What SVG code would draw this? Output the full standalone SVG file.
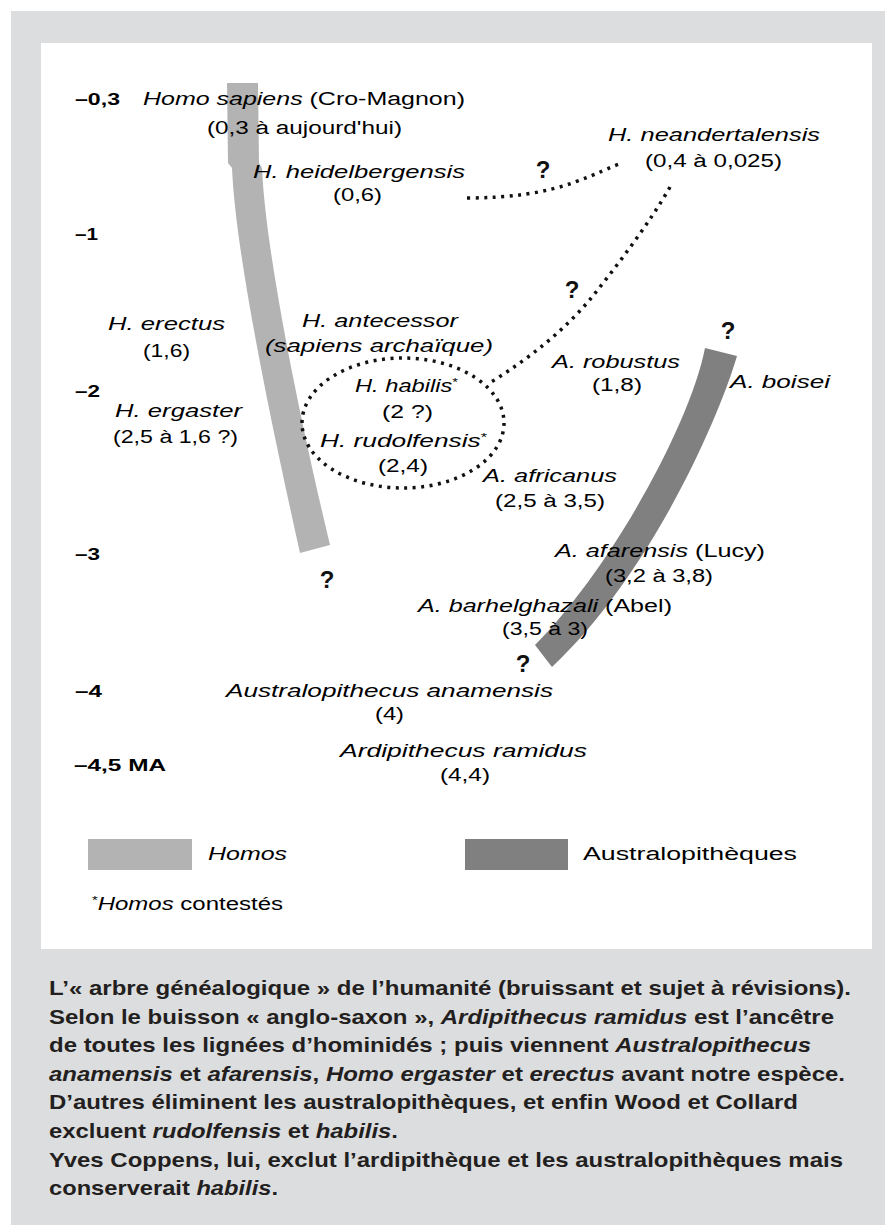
<svg xmlns="http://www.w3.org/2000/svg" width="885" height="1225" viewBox="0 0 885 1225">
<style>
.l{font-family:"Liberation Sans",Arial,sans-serif;font-size:18px;fill:#000}
.i{font-style:italic}
.ax{font-family:"Liberation Sans",Arial,sans-serif;font-size:17px;font-weight:bold;fill:#000}
.q{font-family:"Liberation Sans",Arial,sans-serif;font-size:24px;font-weight:bold;fill:#111;text-anchor:middle}
.cap{font-family:"Liberation Sans",Arial,sans-serif;font-size:21px;font-weight:bold;fill:#231f20}
.dot{fill:none;stroke:#111;stroke-width:3.5;stroke-dasharray:3 5.5}
.light{fill:#b3b3b3}
.dark{fill:#808080}
</style>
<rect x="11" y="11" width="874" height="1214" fill="#dcdddf"/>
<rect x="41" y="43" width="831" height="906" fill="#ffffff"/>

<g id="bands">
<path id="homo-band" class="light" d="M227,83 L258,83 L259,163 L262,168 C266,260 305,440 330,545 L300,553 C275,440 236,260 232,168 L228,163 Z"/>
<path id="austra-band" class="dark" d="M705,348 L737,356 C715,430 645,580 552,667 L535,645 C610,570 690,425 705,348 Z"/>
</g>

<g id="axis">
<text class="ax" x="75" y="105" textLength="45" lengthAdjust="spacingAndGlyphs">–0,3</text>
<text class="ax" x="75" y="240" textLength="23" lengthAdjust="spacingAndGlyphs">–1</text>
<text class="ax" x="75" y="397" textLength="25" lengthAdjust="spacingAndGlyphs">–2</text>
<text class="ax" x="75" y="560" textLength="25" lengthAdjust="spacingAndGlyphs">–3</text>
<text class="ax" x="75" y="697" textLength="27" lengthAdjust="spacingAndGlyphs">–4</text>
<text class="ax" x="74" y="771" textLength="92" lengthAdjust="spacingAndGlyphs">–4,5 MA</text>
</g>

<g id="connectors">
<path class="dot" d="M467,198 C510,198 545,193 575,182 C595,175 610,167 622,163"/>
<path class="dot" d="M670,187 C650,222 620,262 592,297 C565,330 530,358 488,384"/>
<ellipse class="dot" cx="403" cy="423" rx="101" ry="65"/>
</g>

<g id="sapiens"><text class="l" x="143" y="105" textLength="322" lengthAdjust="spacingAndGlyphs"><tspan class="i">Homo sapiens</tspan> (Cro-Magnon)</text>
<text class="l" x="207" y="134" textLength="195" lengthAdjust="spacingAndGlyphs">(0,3 à aujourd'hui)</text></g>
<g id="heidelbergensis"><text class="l i" x="253" y="178" textLength="212" lengthAdjust="spacingAndGlyphs">H. heidelbergensis</text>
<text class="l" x="333" y="201" textLength="49" lengthAdjust="spacingAndGlyphs">(0,6)</text></g>
<g id="neandertalensis"><text class="l i" x="608" y="141" textLength="212" lengthAdjust="spacingAndGlyphs">H. neandertalensis</text>
<text class="l" x="645" y="167" textLength="137" lengthAdjust="spacingAndGlyphs">(0,4 à 0,025)</text></g>
<g id="erectus"><text class="l i" x="108" y="330" textLength="117" lengthAdjust="spacingAndGlyphs">H. erectus</text>
<text class="l" x="143" y="357" textLength="47" lengthAdjust="spacingAndGlyphs">(1,6)</text></g>
<g id="antecessor"><text class="l i" x="302" y="327" textLength="156" lengthAdjust="spacingAndGlyphs">H. antecessor</text>
<text class="l i" x="265" y="352" textLength="228" lengthAdjust="spacingAndGlyphs">(sapiens archaïque)</text></g>
<g id="habilis"><text class="l" x="355" y="392" textLength="103" lengthAdjust="spacingAndGlyphs"><tspan class="i">H. habilis</tspan><tspan font-size="11" dy="-6">*</tspan></text>
<text class="l" x="382" y="418" textLength="51" lengthAdjust="spacingAndGlyphs">(2 ?)</text></g>
<g id="rudolfensis"><text class="l" x="320" y="447" textLength="167" lengthAdjust="spacingAndGlyphs"><tspan class="i">H. rudolfensis</tspan><tspan font-size="11" dy="-6">*</tspan></text>
<text class="l" x="378" y="472" textLength="50" lengthAdjust="spacingAndGlyphs">(2,4)</text></g>
<g id="ergaster"><text class="l i" x="115" y="417" textLength="127" lengthAdjust="spacingAndGlyphs">H. ergaster</text>
<text class="l" x="113" y="443" textLength="125" lengthAdjust="spacingAndGlyphs">(2,5 à 1,6 ?)</text></g>
<g id="robustus"><text class="l i" x="552" y="368" textLength="128" lengthAdjust="spacingAndGlyphs">A. robustus</text>
<text class="l" x="592" y="391" textLength="50" lengthAdjust="spacingAndGlyphs">(1,8)</text></g>
<g id="boisei"><text class="l i" x="730" y="388" textLength="100" lengthAdjust="spacingAndGlyphs">A. boisei</text></g>
<g id="africanus"><text class="l i" x="483" y="482" textLength="134" lengthAdjust="spacingAndGlyphs">A. africanus</text>
<text class="l" x="495" y="507" textLength="110" lengthAdjust="spacingAndGlyphs">(2,5 à 3,5)</text></g>
<g id="afarensis"><text class="l" x="555" y="557" textLength="210" lengthAdjust="spacingAndGlyphs"><tspan class="i">A. afarensis</tspan> (Lucy)</text>
<text class="l" x="605" y="582" textLength="108" lengthAdjust="spacingAndGlyphs">(3,2 à 3,8)</text></g>
<g id="barhelghazali"><text class="l" x="418" y="612" textLength="254" lengthAdjust="spacingAndGlyphs"><tspan class="i">A. barhelghazali</tspan> (Abel)</text>
<text class="l" x="502" y="635" textLength="86" lengthAdjust="spacingAndGlyphs">(3,5 à 3)</text></g>
<g id="anamensis"><text class="l i" x="226" y="697" textLength="327" lengthAdjust="spacingAndGlyphs">Australopithecus anamensis</text>
<text class="l" x="375" y="720" textLength="29" lengthAdjust="spacingAndGlyphs">(4)</text></g>
<g id="ramidus"><text class="l i" x="340" y="757" textLength="247" lengthAdjust="spacingAndGlyphs">Ardipithecus ramidus</text>
<text class="l" x="440" y="781" textLength="50" lengthAdjust="spacingAndGlyphs">(4,4)</text></g>

<g id="questions">
<text class="q" x="543" y="178">?</text>
<text class="q" x="572" y="298">?</text>
<text class="q" x="728" y="339">?</text>
<text class="q" x="327" y="588">?</text>
<text class="q" x="523" y="672">?</text>
</g>

<g id="legend">
<rect class="light" x="88" y="839" width="104" height="31"/>
<text class="l i" x="208" y="860" textLength="79" lengthAdjust="spacingAndGlyphs">Homos</text>
<rect class="dark" x="465" y="839" width="103" height="31"/>
<text class="l" x="583" y="860" textLength="214" lengthAdjust="spacingAndGlyphs">Australopithèques</text>
<text class="l" x="92" y="910" textLength="191" lengthAdjust="spacingAndGlyphs"><tspan font-size="11" dy="-6">*</tspan><tspan class="i" dy="6">Homos</tspan> contestés</text>
</g>

<g id="caption">
<text class="cap" x="49" y="995" textLength="802" lengthAdjust="spacingAndGlyphs">L’« arbre généalogique » de l’humanité (bruissant et sujet à révisions).</text>
<text class="cap" x="49" y="1024" textLength="785" lengthAdjust="spacingAndGlyphs">Selon le buisson « anglo-saxon », <tspan class="i">Ardipithecus ramidus</tspan> est l’ancêtre</text>
<text class="cap" x="49" y="1052" textLength="762" lengthAdjust="spacingAndGlyphs">de toutes les lignées d’hominidés ; puis viennent <tspan class="i">Australopithecus</tspan></text>
<text class="cap" x="49" y="1081" textLength="796" lengthAdjust="spacingAndGlyphs"><tspan class="i">anamensis</tspan> et <tspan class="i">afarensis</tspan>, <tspan class="i">Homo ergaster</tspan> et <tspan class="i">erectus</tspan> avant notre espèce.</text>
<text class="cap" x="49" y="1109" textLength="749" lengthAdjust="spacingAndGlyphs">D’autres éliminent les australopithèques, et enfin Wood et Collard</text>
<text class="cap" x="49" y="1138" textLength="349" lengthAdjust="spacingAndGlyphs">excluent <tspan class="i">rudolfensis</tspan> et <tspan class="i">habilis</tspan>.</text>
<text class="cap" x="49" y="1167" textLength="794" lengthAdjust="spacingAndGlyphs">Yves Coppens, lui, exclut l’ardipithèque et les australopithèques mais</text>
<text class="cap" x="49" y="1195" textLength="229" lengthAdjust="spacingAndGlyphs">conserverait <tspan class="i">habilis</tspan>.</text>
</g>
</svg>
